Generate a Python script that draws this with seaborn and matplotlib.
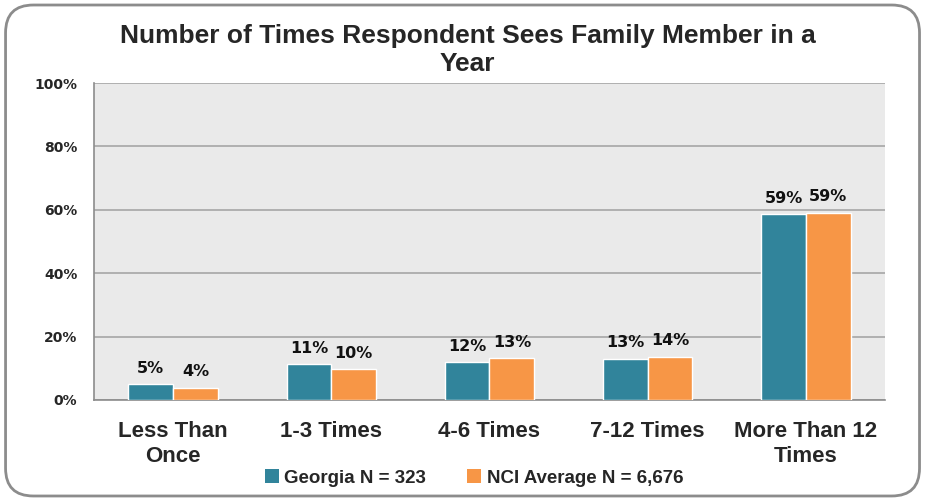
import matplotlib
matplotlib.use("Agg")
import matplotlib.pyplot as plt
import pandas as pd
import seaborn as sns
from matplotlib.patches import FancyBboxPatch, Patch
from matplotlib.ticker import FuncFormatter

CATEGORIES = ["Less Than\nOnce", "1-3 Times", "4-6 Times", "7-12 Times", "More Than 12\nTimes"]
GEORGIA = [5.0, 11.4, 12.0, 13.0, 58.6]
NCI_AVG = [3.9, 9.8, 13.2, 13.7, 59.1]
SERIES = ["Georgia N = 323", "NCI Average N = 6,676"]
COLORS = ["#31849B", "#F79646"]
Y_TICKS = [0, 20, 40, 60, 80, 100]

NARROW = ["Liberation Sans Narrow", "Liberation Sans", "DejaVu Sans"]


def main():
    df = pd.DataFrame({
        "category": CATEGORIES * 2,
        "value": GEORGIA + NCI_AVG,
        "series": [SERIES[0]] * len(CATEGORIES) + [SERIES[1]] * len(CATEGORIES),
    })

    sns.set_theme(style="white")
    plt.rcParams["font.family"] = ["DejaVu Sans"]

    fig = plt.figure(figsize=(9.26, 5.01), dpi=100)
    ax = fig.add_axes([0.1015, 0.2016, 0.8542, 0.6327])
    ax.set_facecolor("#EAEAEA")

    sns.barplot(data=df, x="category", y="value", hue="series",
                palette=COLORS, width=0.565, saturation=1, ax=ax,
                legend=False, zorder=3)

    for cont in ax.containers:
        ax.bar_label(cont, labels=[f"{round(b.get_height()):.0f}%" for b in cont],
                     padding=6, fontsize=11.5, fontweight="bold", color="#111111")

    ax.set_ylim(0, 100)
    ax.set_xlim(-0.5, len(CATEGORIES) - 0.5)
    ax.set_yticks(Y_TICKS)
    ax.yaxis.set_major_formatter(FuncFormatter(lambda v, _: f"{v:.0f}%"))
    ax.grid(axis="y", color="#A6A6A6", linewidth=1.2, zorder=0)
    ax.set_axisbelow(True)
    for side in ["top", "right"]:
        ax.spines[side].set_visible(False)
    for side in ["left", "bottom"]:
        ax.spines[side].set_color("#8C8C8C")
        ax.spines[side].set_linewidth(1.2)

    ax.tick_params(axis="y", length=6, width=1, color="#8C8C8C", direction="out",
                   labelsize=10, pad=6)
    for t in ax.get_yticklabels():
        t.set_fontweight("bold")
    # category ticks sit between groups in the reference
    ax.set_xticks([i + 0.5 for i in range(-1, len(CATEGORIES))], minor=True)
    ax.tick_params(axis="x", which="minor", length=8, width=1, color="#8C8C8C",
                   direction="out")
    ax.tick_params(axis="x", which="major", length=0, pad=15)
    ax.set_xticks(range(len(CATEGORIES)))
    ax.set_xticklabels(CATEGORIES, fontsize=16, fontweight="bold", family=NARROW,
                       linespacing=1.25, va="top")
    ax.set_xlabel("")
    ax.set_ylabel("")

    fig.text(0.505, 0.90, "Number of Times Respondent Sees Family Member in a\nYear",
             ha="center", va="center", fontsize=19, fontweight="bold",
             family=NARROW, linespacing=1.2)

    handles = [Patch(facecolor=c, edgecolor="none") for c in COLORS]
    fig.legend(handles, SERIES, loc="center", bbox_to_anchor=(0.512, 0.046),
               ncol=2, frameon=False, handlelength=0.75, handleheight=0.75,
               handletextpad=0.3, columnspacing=2.2,
               prop={"family": NARROW, "weight": "bold", "size": 13.5})

    frame = FancyBboxPatch((0.006, 0.01), 0.987, 0.98, transform=fig.transFigure,
                           boxstyle="round,pad=0,rounding_size=0.03",
                           facecolor="none", edgecolor="#8C8C8C", linewidth=2,
                           mutation_aspect=926 / 501)
    fig.patches.append(frame)

    fig.savefig("out.png", dpi=100)


if __name__ == "__main__":
    main()
